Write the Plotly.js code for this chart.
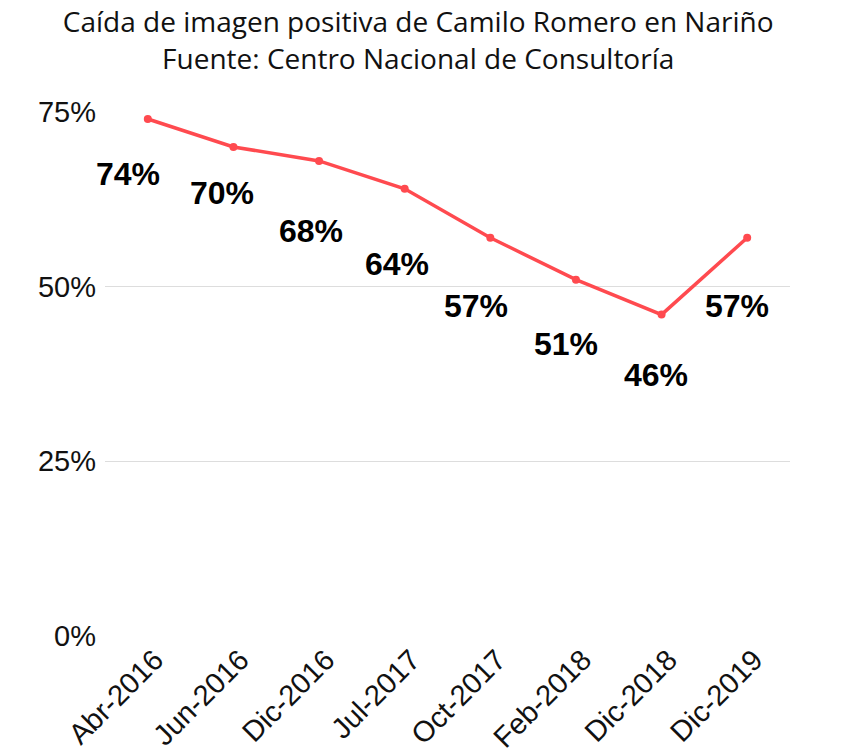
<!DOCTYPE html>
<html>
<head>
<meta charset="utf-8">
<script src="https://cdn.plot.ly/plotly-3.0.1.min.js"></script>
<style>
  html, body { margin: 0; padding: 0; background: #fff; }
  #chart { width: 864px; height: 748px; }
</style>
</head>
<body>
<div id="chart"></div>
<script>
// Imagen positiva de Camilo Romero (Nariño), Centro Nacional de Consultoría
var fechas = ['Abr-2016', 'Jun-2016', 'Dic-2016', 'Jul-2017', 'Oct-2017', 'Feb-2018', 'Dic-2018', 'Dic-2019'];
var imagenPositiva = [0.74, 0.70, 0.68, 0.64, 0.57, 0.51, 0.46, 0.57];

// label offsets (px) relative to each point, as drawn in the original
var labelDx = [-20, -11, -8, -8, -14, -10, -6, -10];
var labelDy = [-55, -46, -70, -75, -68, -64, -60, -68];

var lineColor = '#ff4a4f';
var tickFont = { family: 'Liberation Sans, Arial, sans-serif', size: 29, color: '#111' };

var trace = {
    x: fechas,
    y: imagenPositiva,
    type: 'scatter',
    mode: 'lines+markers',
    line: { color: lineColor, width: 3.5 },
    marker: { color: lineColor, size: 8 },
    hoverinfo: 'x+y'
};

var labels = fechas.map(function(f, i) {
    return {
        x: f,
        y: imagenPositiva[i],
        xref: 'x',
        yref: 'y',
        text: Math.round(imagenPositiva[i] * 100) + '%',
        showarrow: false,
        xshift: labelDx[i],
        yshift: labelDy[i],
        font: { family: 'Liberation Sans, Arial, sans-serif', size: 32, color: '#000', weight: 'bold' }
    };
});

var layout = {
    width: 864,
    height: 748,
    paper_bgcolor: '#fff',
    plot_bgcolor: '#fff',
    margin: { t: 112, r: 74, b: 112, l: 105 },
    showlegend: false,
    title: {
        text: 'Caída de imagen positiva de Camilo Romero en Nariño<br>Fuente: Centro Nacional de Consultoría',
        font: { family: 'Open Sans, sans-serif', size: 28, color: '#111' },
        x: 0.484,
        xanchor: 'center',
        y: 0.957,
        yanchor: 'middle'
    },
    xaxis: {
        type: 'category',
        range: [-0.5, fechas.length - 0.5],
        tickangle: -45,
        tickfont: tickFont,
        ticklabelshift: 7,
        showgrid: false,
        zeroline: false,
        showline: false,
        ticks: ''
    },
    yaxis: {
        range: [0, 0.75],
        tickvals: [0, 0.25, 0.5, 0.75],
        tickformat: '.0%',
        tickfont: tickFont,
        gridcolor: '#dddddd',
        gridwidth: 1,
        zeroline: false,
        showline: false,
        ticks: '',
        ticklabelstandoff: 8
    },
    annotations: labels
};

Plotly.newPlot('chart', [trace], layout, { displayModeBar: false, responsive: false });
</script>
</body>
</html>
